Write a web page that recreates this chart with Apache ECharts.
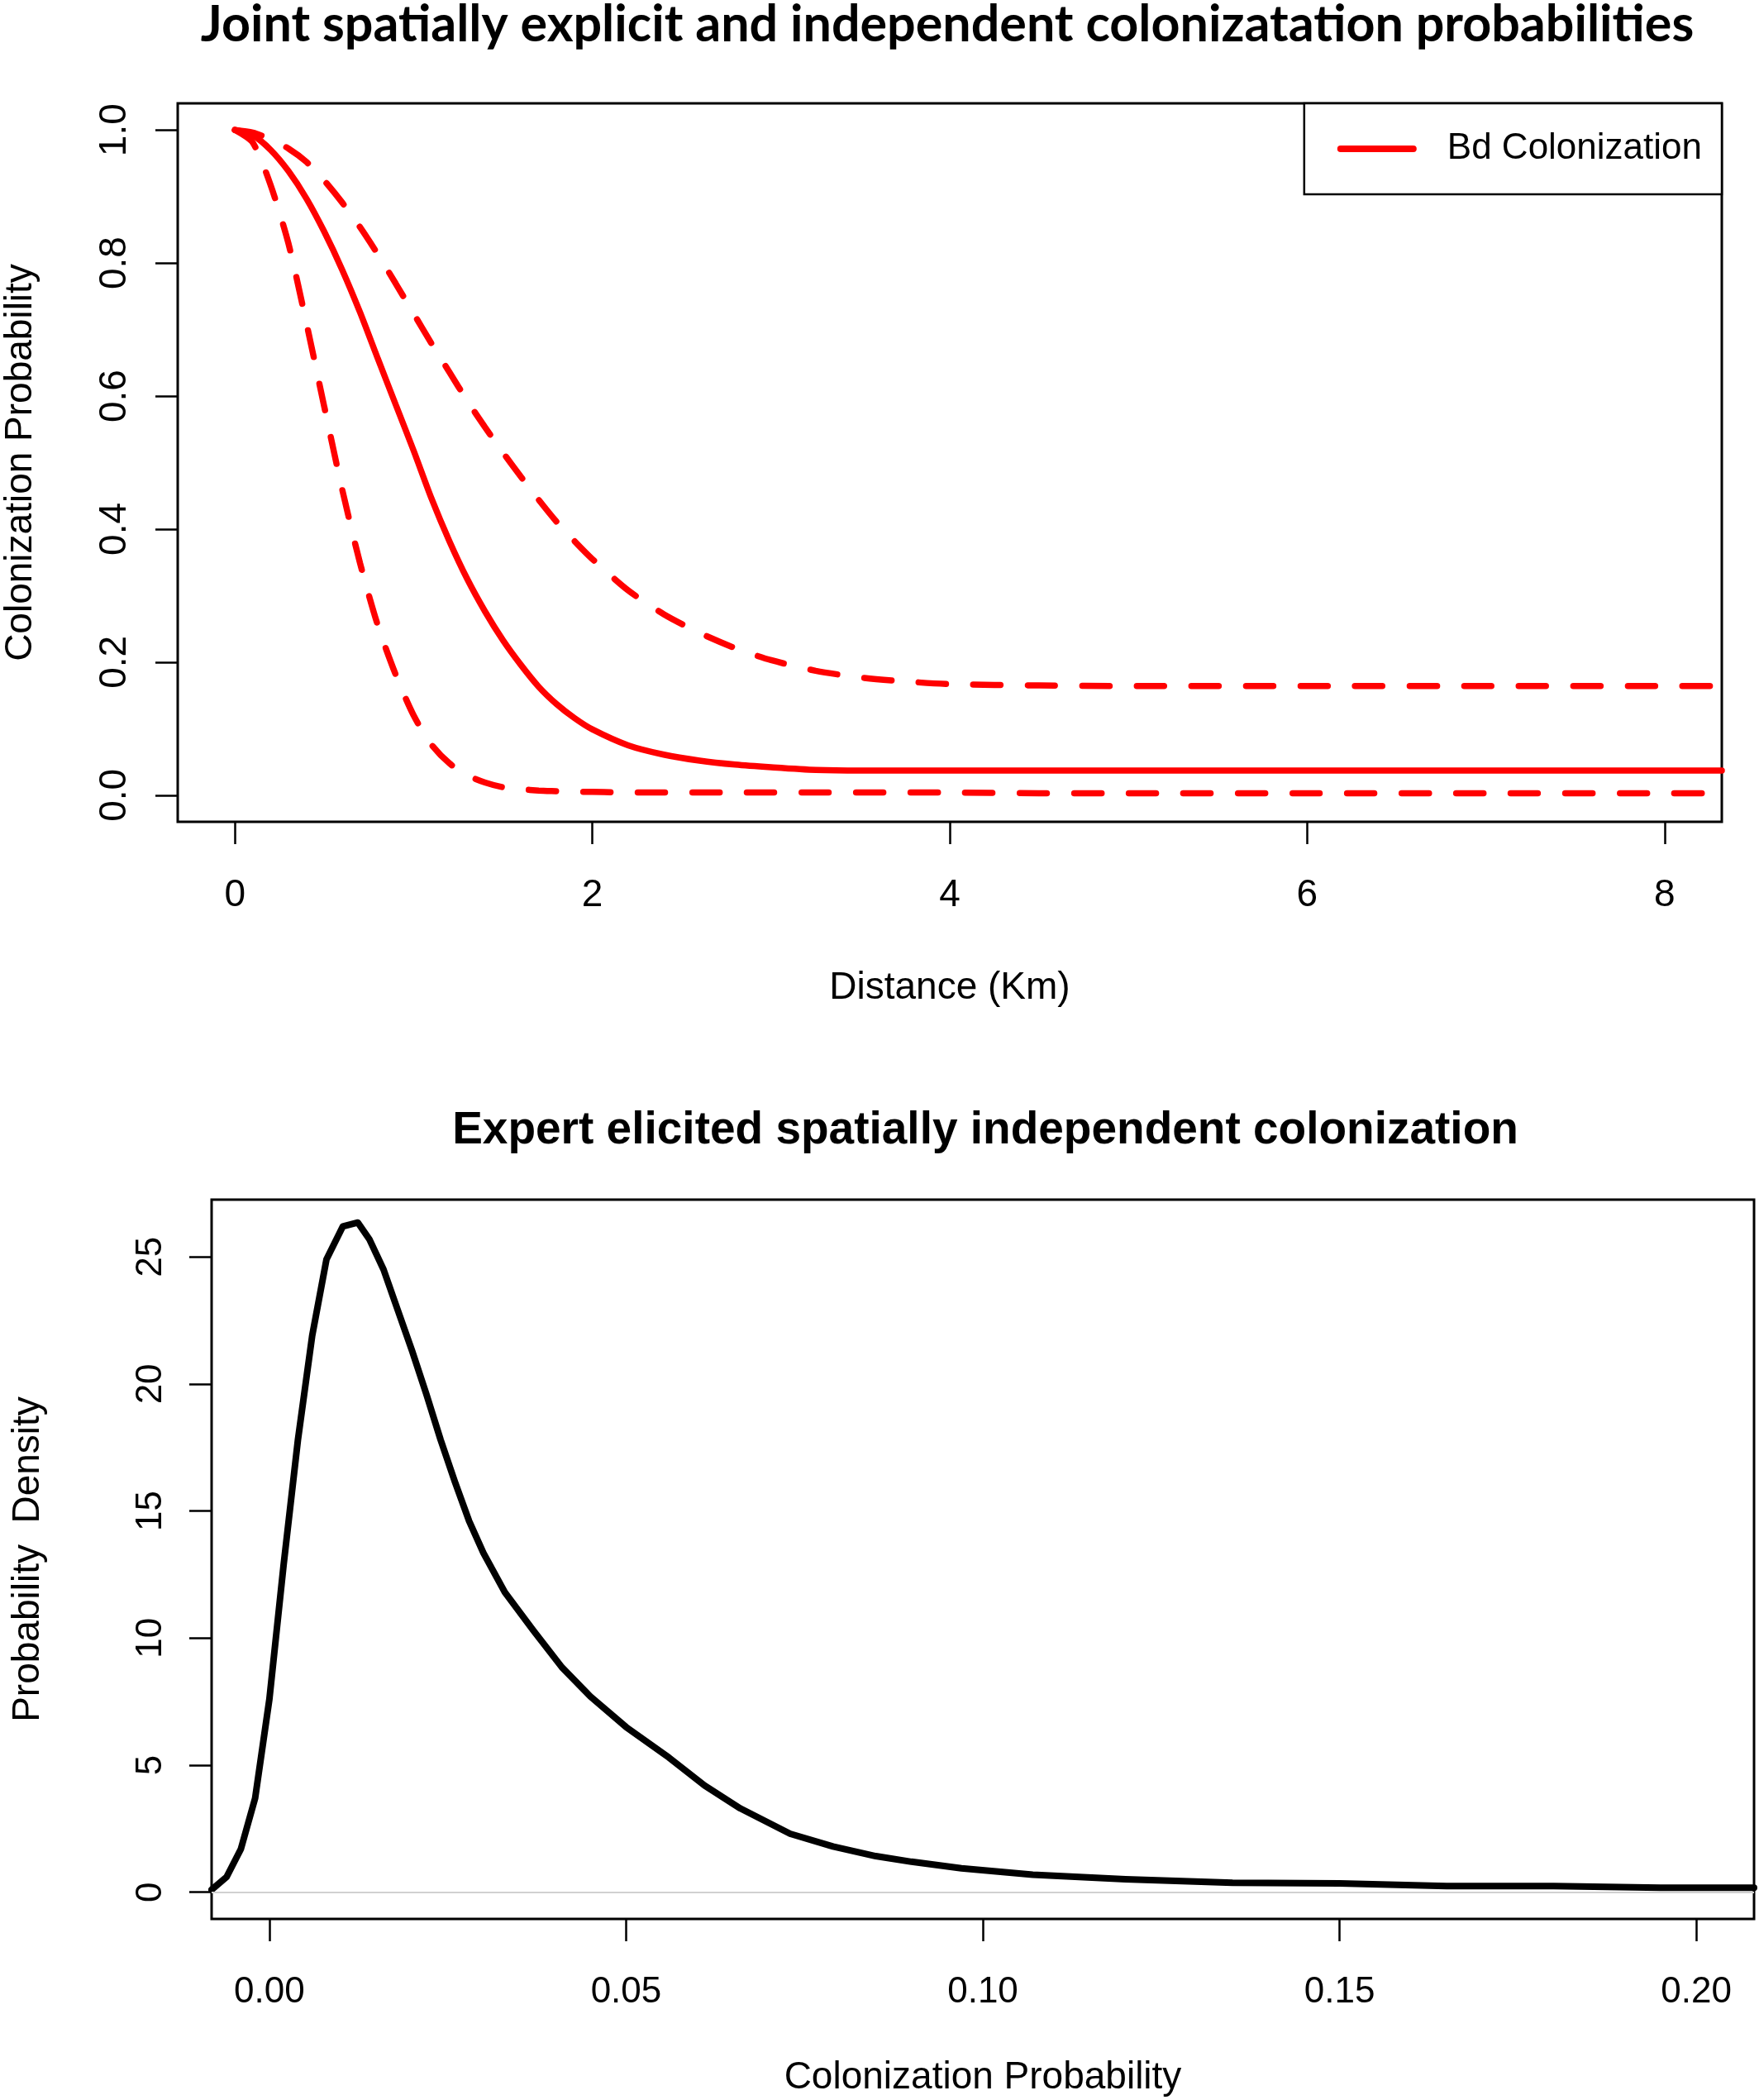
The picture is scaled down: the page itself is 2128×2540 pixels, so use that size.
<!DOCTYPE html>
<html><head><meta charset="utf-8">
<script src="https://cdn.jsdelivr.net/npm/echarts@6/dist/echarts.min.js"></script>
<style>html,body{margin:0;padding:0;background:#fff}#c{width:2128px;height:2540px}</style>
</head><body><div id="c"></div>
<script>
// ---- Top panel data ----
const distanceKm = [0,0.1,0.2,0.3,0.4,0.5,0.6,0.7,0.8,0.9,1.0,1.1,1.2,1.3,1.4,1.5,1.6,1.7,1.8,1.9,2.0,2.2,2.4,2.6,2.8,3.0,3.25,3.5,3.75,4.0,4.5,5,6,7,8,8.32];
const bdMean  = [1.000,0.992,0.970,0.938,0.897,0.847,0.790,0.726,0.656,0.587,0.518,0.446,0.382,0.325,0.276,0.233,0.196,0.163,0.137,0.116,0.099,0.075,0.061,0.052,0.046,0.042,0.038,0.037,0.037,0.037,0.037,0.037,0.037,0.037,0.037,0.037];
const bdUpper = [1.000,0.996,0.986,0.972,0.952,0.924,0.891,0.854,0.813,0.769,0.724,0.679,0.636,0.593,0.553,0.515,0.479,0.444,0.411,0.382,0.355,0.308,0.272,0.244,0.221,0.203,0.187,0.177,0.171,0.167,0.165,0.164,0.164,0.164,0.164,0.164];
const bdLower = [1.000,0.981,0.917,0.829,0.710,0.584,0.460,0.349,0.255,0.181,0.120,0.076,0.048,0.030,0.019,0.012,0.009,0.007,0.006,0.005,0.005,0.004,0.004,0.004,0.004,0.004,0.004,0.004,0.004,0.004,0.003,0.003,0.003,0.003,0.003,0.003];
const topXTicks = [0,2,4,6,8];
const topYTicks = [0,0.2,0.4,0.6,0.8,1.0];

// ---- Bottom panel data ----
const colonProb   = [-0.0081,-0.006,-0.004,-0.002,0.000,0.002,0.004,0.006,0.008,0.0103,0.0124,0.014,0.016,0.018,0.020,0.022,0.024,0.026,0.028,0.030,0.033,0.037,0.041,0.045,0.050,0.056,0.061,0.066,0.073,0.079,0.085,0.090,0.097,0.107,0.120,0.135,0.150,0.165,0.180,0.195,0.2081];
const probDensity = [0.1,0.6,1.7,3.7,7.6,12.9,17.8,21.9,24.9,26.2,26.35,25.7,24.5,22.9,21.3,19.6,17.8,16.15,14.6,13.35,11.8,10.3,8.85,7.7,6.5,5.3,4.2,3.3,2.3,1.8,1.42,1.2,0.94,0.69,0.51,0.37,0.35,0.24,0.24,0.18,0.18];
const botXTicks = [0,0.05,0.10,0.15,0.20];
const botYTicks = [0,5,10,15,20,25];

const FONT = 'Liberation Sans';
const chart = echarts.init(document.getElementById('c'), null, {renderer:'canvas'});
function pairs(xs, ys){ return xs.map((x,i)=>[x, ys[i]]); }
function tick(vals){ return {show:true, inside:false, length:27, customValues:vals, lineStyle:{color:'#000', width:2.5}}; }
function lbl(vals, margin, fmt, rot, size){
  return {show:true, customValues:vals, margin:margin, fontSize:size||46, color:'#000', fontFamily:FONT, formatter:fmt, rotate:rot||0};
}
const nameStyle = {fontSize:46, color:'#000', fontFamily:FONT};
const noLine = {show:false, onZero:false};

chart.setOption({
  animation:false,
  backgroundColor:'#fff',
  textStyle:{fontFamily:FONT},
  grid:[
    {left:215, top:125, width:1868, height:869, show:true, borderColor:'#000', borderWidth:3, backgroundColor:'transparent', outerBoundsMode:'none', containLabel:false},
    {left:256, top:1451, width:1866, height:870, show:true, borderColor:'#000', borderWidth:3, backgroundColor:'transparent', outerBoundsMode:'none', containLabel:false}
  ],
  xAxis:[
    {type:'value', gridIndex:0, min:-0.32, max:8.32, axisLine:noLine, splitLine:{show:false},
     axisTick:tick(topXTicks), axisLabel:lbl(topXTicks, 66, v=>String(v)),
     name:'Distance (Km)', nameLocation:'middle', nameGap:178, nameTextStyle:nameStyle},
    {type:'value', gridIndex:1, min:-0.0081, max:0.2081, axisLine:noLine, splitLine:{show:false},
     axisTick:tick(botXTicks), axisLabel:lbl(botXTicks, 67, v=>v.toFixed(2), 0, 44),
     name:'Colonization Probability', nameLocation:'middle', nameGap:169, nameTextStyle:nameStyle}
  ],
  yAxis:[
    {type:'value', gridIndex:0, min:-0.04, max:1.04, axisLine:noLine, splitLine:{show:false},
     axisTick:tick(topYTicks), axisLabel:lbl(topYTicks, 53, v=>v.toFixed(1), 90),
     name:'Colonization Probability', nameLocation:'middle', nameGap:167, nameTextStyle:nameStyle},
    {type:'value', gridIndex:1, min:-1.05, max:27.25, axisLine:noLine, splitLine:{show:false},
     axisTick:tick(botYTicks), axisLabel:lbl(botYTicks, 51, v=>String(v), 90, 44),
     name:'Probability  Density', nameLocation:'middle', nameGap:199, nameTextStyle:nameStyle}
  ],
  legend:{
    show:true, data:['Bd Colonization'], top:125, right:45,
    padding:[33,24,33,40], itemWidth:88, itemHeight:44,
    borderColor:'#000', borderWidth:2.5, backgroundColor:'#fff', borderRadius:0,
    textStyle:{fontSize:44, color:'#000', fontFamily:FONT, padding:[0,0,0,36]},
    itemStyle:{opacity:0},
    lineStyle:{width:8, cap:'round', type:'solid', color:'#ff0000'}
  },
  series:[
    {name:'Bd Colonization', type:'line', xAxisIndex:0, yAxisIndex:0, data:pairs(distanceKm, bdMean),
     symbol:'none', smooth:0.25, color:'#ff0000', lineStyle:{color:'#ff0000', width:7.5, cap:'round'}, z:3},
    {name:'Upper bound', type:'line', xAxisIndex:0, yAxisIndex:0, data:pairs(distanceKm, bdUpper),
     symbol:'none', smooth:0.25, color:'#ff0000', lineStyle:{color:'#ff0000', width:7.5, type:[33,33], cap:'round'}, z:3},
    {name:'Lower bound', type:'line', xAxisIndex:0, yAxisIndex:0, data:pairs(distanceKm, bdLower),
     symbol:'none', smooth:0.25, color:'#ff0000', lineStyle:{color:'#ff0000', width:7.5, type:[33,33], cap:'round'}, z:3},
    {name:'zero', type:'line', xAxisIndex:1, yAxisIndex:1, data:[], z:1,
     markLine:{silent:true, symbol:['none','none'], label:{show:false}, animation:false,
       lineStyle:{color:'#d0d0d0', width:2, type:'solid'}, data:[{yAxis:0}]}},
    {name:'Density', type:'line', xAxisIndex:1, yAxisIndex:1, data:pairs(colonProb, probDensity),
     symbol:'none', smooth:false, color:'#000', lineStyle:{color:'#000', width:8, join:'round', cap:'round'}, z:3}
  ],
  graphic:[
    {type:'text', x:1146, y:30, z:10, style:{text:'Joint spatially explicit and independent colonizatation probabilities',
      font:'bold 61px Lato', fill:'#000', align:'center', verticalAlign:'middle'}},
    {type:'text', x:1192, y:1368, z:10, style:{text:'Expert elicited spatially independent colonization',
      font:'bold 55px "Liberation Sans"', fill:'#000', align:'center', verticalAlign:'middle'}}
  ]
});
</script>
</body></html>
